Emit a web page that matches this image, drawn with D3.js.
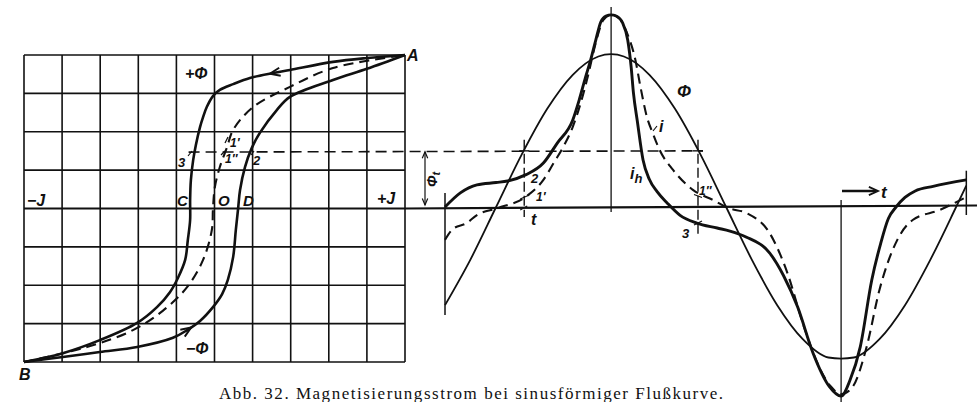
<!DOCTYPE html>
<html>
<head>
<meta charset="utf-8">
<script src="https://cdn.jsdelivr.net/npm/d3@7"></script>
<style>
  html, body { margin: 0; padding: 0; background: #fff; }
  svg { display: block; }
  text { font-family: "Liberation Sans", Arial, sans-serif; font-style: italic; font-weight: bold; fill: #111; }
  text.caption { font-family: "Liberation Serif", "DejaVu Serif", serif; font-style: normal; font-weight: normal; }
</style>
</head>
<body>
<svg id="chart" width="977" height="402"></svg>
<script>
// ---- Hysteresis loop, [J, Φ] in grid units ----
// descending branch, A → B
const loopFalling = [[5,4],[4.0,3.92],[3.11,3.82],[1.98,3.61],[1.54,3.53],[0.93,3.40],[0.49,3.24],[0.14,3.09],
  [-0.04,2.93],[-0.20,2.65],[-0.30,2.38],[-0.38,2.12],[-0.49,1.65],[-0.56,1.26],[-0.62,0.74],[-0.64,0.22],
  [-0.64,-0.30],[-0.70,-0.82],[-0.77,-1.34],[-0.96,-1.81],[-1.17,-2.18],[-1.51,-2.57],[-2.03,-2.98],
  [-3.01,-3.43],[-3.98,-3.77],[-5,-4]];
// ascending branch, B → A
const loopRising = [[-5,-4],[-3.98,-3.87],[-3.01,-3.74],[-2.03,-3.61],[-1.09,-3.37],[-0.72,-3.17],[-0.38,-2.93],
  [-0.04,-2.57],[0.20,-2.23],[0.35,-1.86],[0.49,-1.26],[0.56,-0.56],[0.62,0],[0.67,0.48],[0.80,1.08],
  [0.98,1.58],[1.19,1.97],[1.64,2.57],[1.98,2.91],[3.11,3.35],[4.0,3.64],[5,4]];
// mean curve without hysteresis (dashed)
const loopMean = [[-5,-4],[-3.35,-3.61],[-2.14,-3.17],[-1.35,-2.66],[-0.72,-2.05],[-0.30,-1.34],[-0.07,-0.56],
  [-0.04,0],[0.01,0.56],[0.14,1.08],[0.33,1.60],[0.49,2.05],[1.01,2.64],[1.98,3.17],[3.11,3.66],[5,4]];

// ---- Time curves, [ωt in degrees, value in grid units] ----
const fluxPhi = [[-40,-2.57],[-20,-1.37],[0,0],[20,1.37],[40,2.57],[60,3.46],[80,3.94],[90,4.0],[100,3.94],
  [120,3.46],[140,2.57],[160,1.37],[180,0],[200,-1.37],[220,-2.57],[240,-3.46],[260,-3.94],[270,-3.97],
  [280,-3.94],[300,-3.46],[320,-2.57],[340,-1.37],[360,0],[368,0.56]];
const currentIh = [[-40,0],[-28,0.37],[-15,0.58],[0,0.64],[9,0.68],[23,0.84],[37,1.15],[48,1.68],[60,2.28],
  [65,2.8],[70,3.4],[74,3.85],[78,4.37],[82,4.85],[86,5.0],[90,5.03],[94,5.0],[99,4.82],[103,4.37],
  [105.7,3.66],[107.5,2.98],[110.5,2.25],[115,1.23],[120,0.72],[126,0.4],[134,0.1],[144,-0.22],[157,-0.42],
  [173,-0.55],[183,-0.63],[196,-0.79],[214,-1.2],[225,-1.8],[236,-2.62],[248,-3.82],[261,-4.71],
  [270,-4.95],[277,-4.53],[285,-3.66],[294,-1.91],[301,-0.95],[307,-0.3],[313,0.0],[320,0.25],
  [328,0.42],[342,0.54],[368,0.71]];
const currentI = [[-40,-0.86],[-34,-0.58],[-23,-0.42],[-15,-0.21],[1,-0.03],[23,0.26],[37,0.71],[45,1.15],
  [53,1.6],[60,2.1],[66,2.7],[72,3.45],[78,4.3],[84,4.9],[90,5.03],[96,4.95],[102.5,4.55],[109,3.85],
  [113,3.14],[118,2.36],[123,1.9],[128,1.49],[138.5,0.97],[154,0.45],[170,0.18],[182,-0.03],[196,-0.16],
  [214,-0.68],[228,-1.73],[240,-3.04],[254,-4.27],[262,-4.7],[270,-4.9],[279,-4.71],[290,-3.66],
  [300,-2.17],[314,-0.86],[326,-0.34],[347,-0.08],[368,0.26]];

const phiT = 1.47;              // flux level Φt
const tMarks = [22, 158];        // instants where Φ = Φt
const caption = "Abb. 32. Magnetisierungsstrom bei sinusförmiger Flußkurve.";

// ---- scales ----
const xL = d3.scaleLinear().domain([-5, 5]).range([24, 405]);
const yL = d3.scaleLinear().domain([-4, 4]).range([362, 55]);
const xR = d3.scaleLinear().domain([-40, 369]).range([445, 967.6]);
const yR = d3.scaleLinear().domain([-5, 5]).range([398, 16]);

const svg = d3.select("#chart");
const ink = "#111";

const lineL = d3.line().x(d => xL(d[0])).y(d => yL(d[1])).curve(d3.curveCatmullRom.alpha(0.5));
const lineR = d3.line().x(d => xR(d[0])).y(d => yR(d[1])).curve(d3.curveMonotoneX);

function seg(g, x1, y1, x2, y2, w, dash) {
  const l = g.append("line").attr("x1", x1).attr("y1", y1).attr("x2", x2).attr("y2", y2)
    .attr("stroke", ink).attr("stroke-width", w);
  if (dash) l.attr("stroke-dasharray", dash);
  return l;
}
function arrowHead(g, x, y, ang, len, spread, w) {
  const p = d3.path();
  p.moveTo(x - len * Math.cos(ang - spread), y - len * Math.sin(ang - spread));
  p.lineTo(x, y);
  p.lineTo(x - len * Math.cos(ang + spread), y - len * Math.sin(ang + spread));
  g.append("path").attr("d", p.toString()).attr("fill", "none").attr("stroke", ink)
    .attr("stroke-width", w).attr("stroke-linejoin", "miter");
}
function arrowOnPath(g, node, targetX) {
  const L = node.getTotalLength();
  let best = 0, bd = Infinity;
  for (let s = 2; s < L - 2; s += 0.5) {
    const p = node.getPointAtLength(s);
    const d = Math.abs(p.x - targetX);
    if (d < bd) { bd = d; best = s; }
  }
  const a = node.getPointAtLength(best - 2), b = node.getPointAtLength(best + 2);
  const tip = node.getPointAtLength(best);
  arrowHead(g, tip.x, tip.y, Math.atan2(b.y - a.y, b.x - a.x), 11, 0.38, 2);
}
function label(g, x, y, txt, size, extra) {
  const t = g.append("text").attr("x", x).attr("y", y).attr("font-size", size).text(txt);
  if (extra) extra(t);
  return t;
}

// ---- left panel: grid ----
const gL = svg.append("g");
d3.range(0, 11).forEach(i => seg(gL, xL(-5 + i), yL(4), xL(-5 + i), yL(-4), 1.6));
d3.range(0, 9).forEach(j => { if (j !== 4) seg(gL, xL(-5), yL(-4 + j), xL(5), yL(-4 + j), 1.6); });
// abscissa, continued through the time diagram
seg(gL, xL(-5), yL(0), xL(5), yL(0), 2.2);
seg(gL, xL(5), yL(0), 977, yR(0) - 1.5, 2.2);

// Φt level, carried across to the time diagram
seg(gL, xL(-0.68), yL(phiT), xR(tMarks[1]) + 5, yR(phiT), 1.6, "11,6");

// loop curves
const pFall = gL.append("path").attr("d", lineL(loopFalling)).attr("fill", "none").attr("stroke", ink).attr("stroke-width", 2.6);
const pRise = gL.append("path").attr("d", lineL(loopRising)).attr("fill", "none").attr("stroke", ink).attr("stroke-width", 2.6);
gL.append("path").attr("d", lineL(loopMean)).attr("fill", "none").attr("stroke", ink).attr("stroke-width", 2.1).attr("stroke-dasharray", "10,6");
arrowOnPath(gL, pFall.node(), 270);
arrowOnPath(gL, pRise.node(), 191);

// left labels
label(gL, xL(5) + 2, yL(4) + 6, "A", 16);
label(gL, xL(-5) - 5, yL(-4) + 18, "B", 16);
label(gL, 185, 79, "+Φ", 16);
label(gL, 186, 354, "−Φ", 16);
label(gL, 27, 206, "−J", 16);
label(gL, 377, 204, "+J", 16);
label(gL, 177, 206, "C", 15);
label(gL, 218, 206, "O", 15);
label(gL, 243, 206, "D", 15);
label(gL, 178, 167, "3", 13);
label(gL, 253, 165, "2", 13);
label(gL, 230, 147, "1′", 12);
label(gL, 225, 163, "1″", 12);
seg(gL, 188, 156, 192, 151, 1.2);
seg(gL, 254, 151, 251, 155, 1.2);
seg(gL, 228, 137, 225, 143, 1.2);
seg(gL, 225, 151, 221, 155, 1.2);

// ---- right panel: time diagram ----
const gR = svg.append("g");
// verticals
seg(gR, xR(-40), 193, xR(-40), 315, 1.5);
seg(gR, xR(90), 7, xR(90), yR(0) + 5, 1.3);
seg(gR, xR(270), yR(0) - 7, xR(270), 402, 1.3);
seg(gR, xR(368), yR(0.95), xR(368), yR(0) + 8, 1.5);
tMarks.forEach(t => {
  seg(gR, xR(t), yR(phiT) - 11, xR(t), yR(0) + 10 + (t > 90 ? 20 : 0), 1.4, "10,4");
  seg(gR, xR(t) - 5, yR(phiT), xR(t) + 5, yR(phiT), 1.4);
});
// small cross ticks at the marked points
seg(gR, xR(tMarks[0]) - 4, yR(0.84) + 2, xR(tMarks[0]) + 5, yR(0.84) - 2, 1.2);
seg(gR, xR(tMarks[0]) - 4, yR(0.26) + 2, xR(tMarks[0]) + 5, yR(0.26) - 2, 1.2);
seg(gR, xR(tMarks[0]) - 4, yR(0) + 3, xR(tMarks[0]) + 3, yR(0) - 1, 1.2);
seg(gR, xR(tMarks[1]) - 4, yR(0.3) - 1, xR(tMarks[1]) + 4, yR(0.3) + 2, 1.2);
seg(gR, xR(tMarks[1]) - 4, yR(-0.42) + 2, xR(tMarks[1]) + 4, yR(-0.42) - 2, 1.2);

// Φt dimension arrow
const ax = 425;
seg(gR, ax, yR(phiT) + 1, ax, yR(0) - 2, 1.2);
arrowHead(gR, ax, yR(phiT) + 1, -Math.PI / 2, 7, 0.4, 1.2);
arrowHead(gR, ax, yR(0) - 2, Math.PI / 2, 7, 0.4, 1.2);
label(gR, 0, 0, "Φ", 14, t => {
  t.attr("transform", `translate(437,${yR(phiT / 2) + 8}) rotate(-90)`);
  t.append("tspan").attr("font-size", 11).attr("dy", 3).text("t");
});

// curves
gR.append("path").attr("d", lineR(fluxPhi)).attr("fill", "none").attr("stroke", ink).attr("stroke-width", 1.8);
gR.append("path").attr("d", lineR(currentI)).attr("fill", "none").attr("stroke", ink).attr("stroke-width", 2.1).attr("stroke-dasharray", "10,6");
gR.append("path").attr("d", lineR(currentIh)).attr("fill", "none").attr("stroke", ink).attr("stroke-width", 2.9);

// right labels
label(gR, 677, 97, "Φ", 17);
label(gR, 659, 132, "i", 16);
seg(gR, 653, 131, 657, 126, 1.2);
label(gR, 630, 179, "i", 16, t => t.append("tspan").attr("font-size", 13).attr("dy", 4).text("h"));
label(gR, 531, 183, "2", 13);
label(gR, 536, 201, "1′", 12);
label(gR, 531, 225, "t", 16);
label(gR, 682, 238, "3", 13);
label(gR, 699, 195, "1″", 12);
// time direction
seg(gR, 842, 191, 876, 191, 2.4);
arrowHead(gR, 878, 191, 0, 10, 0.42, 1.8);
label(gR, 881, 198, "t", 17);

// caption
svg.append("text").attr("class", "caption").attr("x", 219).attr("y", 399)
  .attr("font-size", 17).attr("textLength", 504).attr("lengthAdjust", "spacing").text(caption);
</script>
</body>
</html>
